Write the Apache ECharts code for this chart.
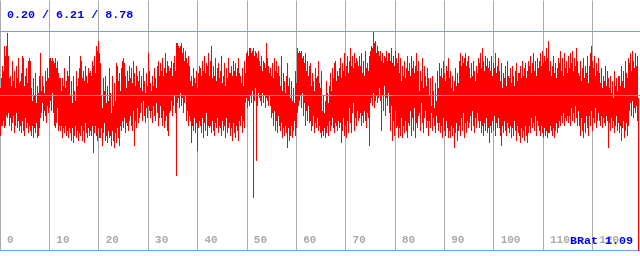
<!DOCTYPE html>
<html>
<head>
<meta charset="utf-8">
<script src="https://cdn.jsdelivr.net/npm/echarts@6/dist/echarts.min.js"></script>
<style>
html,body{margin:0;padding:0;background:#fff;}
#c{width:640px;height:256px;}
</style>
</head>
<body>
<div id="c"></div>
<script>
// Summary figures shown in the header (min / avg / max) and the ratio label
const summaryText = '0.20 / 6.21 / 8.78';
const ratioText = 'BRat 1.09';
const avgValue = 6.21;
const maxValue = 8.78;
const xTickStep = 10;
const xMax = 129.65;

// Per-column high values (one per sample column)
const highs = [
6.5,6.9,7.4,7.2,8.2,7.8,8.2,8.7,7.8,6.9,
7.0,6.6,7.6,6.8,7.2,6.5,7.4,6.9,7.7,6.7,
6.8,7.1,7.8,7.7,6.6,7.0,7.3,6.7,7.6,7.7,
7.6,6.5,6.0,6.9,6.2,7.1,5.9,6.6,6.3,7.0,
7.9,6.4,7.0,6.6,6.3,7.2,6.8,7.3,6.9,7.7,
7.7,7.6,7.7,7.6,7.5,7.7,7.3,7.6,7.1,6.9,
6.9,6.4,6.9,6.6,7.3,6.5,6.8,7.2,7.0,7.8,
6.2,6.8,5.9,7.0,6.4,6.0,7.2,6.6,6.9,7.3,
7.8,7.6,6.9,7.2,6.8,7.4,7.0,6.7,7.3,7.1,
7.2,7.0,7.6,7.4,7.8,7.1,8.2,8.0,8.4,7.9,
7.5,6.2,5.7,6.9,6.4,7.0,5.9,6.6,6.0,7.3,
6.3,5.5,7.0,5.8,6.7,6.0,7.5,7.4,6.8,7.1,
6.4,7.3,7.6,7.7,7.5,7.0,6.5,7.2,6.8,7.4,
6.9,7.3,6.7,7.6,7.1,6.6,7.4,7.0,6.8,7.2,
6.5,7.0,6.4,7.3,6.8,6.3,7.1,6.6,7.9,7.2,
6.7,6.4,7.0,6.6,7.3,6.9,6.5,7.4,7.6,7.0,
7.5,7.2,7.7,7.0,7.3,7.9,7.1,7.6,7.4,7.2,
7.3,7.6,7.0,7.5,7.8,7.2,8.3,8.3,8.2,8.1,
8.2,8.3,7.9,8.1,7.6,8.0,7.7,7.5,7.8,7.4,
6.8,7.0,6.6,7.3,6.9,6.7,7.2,6.5,7.1,7.4,
7.3,7.0,7.6,7.2,7.8,7.1,7.5,7.4,7.9,7.0,
7.6,8.2,6.9,7.4,7.0,7.7,6.8,7.3,7.5,6.9,
7.2,7.8,6.7,7.0,7.5,6.6,7.3,6.9,7.7,7.1,
7.1,7.4,7.0,7.6,7.2,7.5,7.0,7.3,7.7,7.1,
7.0,6.7,7.3,6.6,7.6,7.1,7.9,8.0,7.8,8.1,
8.1,7.9,8.0,8.1,7.8,8.0,7.9,7.7,8.0,7.6,
7.4,7.8,7.2,7.6,7.5,7.3,8.3,7.7,7.4,7.1,
7.3,7.0,7.5,6.9,7.7,7.2,7.6,7.1,7.4,7.0,
6.6,7.8,6.4,7.1,6.8,6.3,7.0,7.5,6.6,6.9,
6.1,6.8,6.0,6.5,5.9,7.2,6.7,8.1,7.9,8.0,
7.9,8.0,7.7,7.8,7.5,7.9,7.2,7.6,7.0,7.4,
7.5,6.6,7.1,6.8,6.4,7.3,6.9,7.0,7.6,6.7,
6.5,5.8,7.2,5.6,6.2,5.5,6.0,6.8,6.3,5.9,
6.6,7.1,6.4,7.3,6.9,7.5,7.6,6.8,7.2,7.0,
7.3,7.7,6.9,7.5,7.2,7.9,7.0,7.4,7.8,7.1,
7.6,8.1,7.4,7.8,7.3,7.9,7.5,7.7,7.6,7.4,
7.8,7.4,7.9,7.1,7.6,7.0,8.0,7.3,7.5,7.2,
7.8,8.0,8.2,8.1,8.75,8.3,8.4,7.9,8.2,8.0,
7.8,8.0,7.6,7.9,7.5,7.8,7.7,8.0,7.6,7.9,
7.9,7.6,8.1,7.5,7.8,7.4,8.0,7.7,7.5,7.9,
7.1,7.7,6.8,7.4,7.0,7.6,6.9,7.3,7.8,7.2,
7.5,7.0,7.8,7.3,7.6,7.1,7.4,7.9,7.2,7.6,
6.4,7.2,6.8,7.7,6.5,7.4,7.0,6.6,7.3,6.9,
6.2,6.9,5.8,7.0,6.4,5.7,6.7,6.0,7.2,6.5,
7.5,7.0,7.3,6.9,7.6,7.1,6.8,7.4,7.2,7.7,
6.9,7.2,6.5,7.0,6.4,6.8,7.3,6.6,7.1,6.7,
7.6,7.9,7.4,7.8,7.5,7.7,7.9,7.4,7.6,7.8,
7.3,6.9,7.5,7.0,7.6,7.2,6.8,7.4,7.1,7.7,
7.5,7.9,7.3,8.1,7.6,7.2,7.8,7.4,7.7,7.3,
7.6,7.2,7.8,7.0,7.5,7.3,7.9,7.1,7.4,7.7,
7.2,6.8,7.5,6.5,7.1,6.9,7.4,6.6,7.6,7.0,
6.9,7.3,6.7,7.4,7.0,6.6,7.2,7.5,6.8,7.1,
7.1,7.4,6.9,7.6,7.0,7.3,7.5,6.9,7.2,7.6,
7.4,7.8,7.1,7.5,7.9,7.2,7.6,7.0,7.7,7.3,
7.6,7.9,7.4,8.0,7.5,7.8,7.6,8.1,7.7,8.4,
7.2,7.6,7.0,7.4,7.8,7.1,7.5,6.9,7.3,7.7,
7.5,8.0,7.2,7.7,7.0,7.9,7.3,7.6,7.1,7.8,
7.3,7.9,7.5,8.0,7.2,7.7,7.4,8.1,7.6,7.1,
7.0,7.6,6.8,7.3,7.7,6.9,7.4,7.1,7.8,6.7,
7.4,7.9,8.2,7.6,7.3,7.8,7.0,7.5,7.2,7.7,
7.1,6.7,7.3,6.5,7.0,6.8,7.4,6.6,7.2,6.9,
6.5,7.0,6.3,6.8,6.1,7.2,6.6,6.9,6.4,7.0,
7.0,6.6,7.4,6.8,7.2,6.5,7.6,7.1,6.9,7.7,
7.5,7.9,7.2,8.0,7.6,7.3,7.9,7.4,7.8,6.1
];

// Per-column low values
const lows = [
4.6,5.0,5.0,5.2,4.9,5.0,5.4,5.3,5.5,5.0,
5.3,4.8,5.1,5.4,4.7,5.0,5.5,4.9,5.2,4.8,
5.0,4.7,5.2,4.8,4.6,5.3,4.9,5.1,4.7,5.0,
4.8,4.6,5.0,4.5,4.9,4.7,5.1,4.5,4.6,4.9,
5.3,5.5,5.9,5.2,5.6,5.4,5.1,5.8,5.5,5.7,
6.0,5.6,6.3,5.5,5.0,4.9,5.1,5.7,4.8,5.0,
4.8,5.0,4.5,4.9,4.7,5.0,4.6,4.8,4.5,4.9,
4.7,4.4,4.9,4.3,4.6,5.0,4.5,4.8,4.4,4.7,
4.6,5.0,4.4,4.8,4.3,5.1,4.7,4.5,4.9,4.6,
4.8,4.6,5.0,3.9,4.7,5.0,4.6,4.4,4.9,4.5,
4.5,4.9,4.2,4.7,5.1,4.4,4.6,4.3,4.8,4.5,
4.6,4.2,4.8,4.4,4.1,4.7,4.3,4.9,4.5,4.2,
5.0,4.8,5.2,4.9,5.3,4.7,5.1,5.0,4.8,5.2,
5.4,5.0,4.8,5.6,4.2,5.2,4.9,5.7,5.1,5.3,
5.5,5.9,5.2,6.0,5.4,5.1,5.7,5.3,5.8,5.6,
5.3,5.6,5.1,5.8,5.4,5.2,5.9,5.5,5.0,5.3,
5.8,5.3,5.0,5.6,4.9,5.2,5.4,4.8,4.6,5.5,
5.6,6.0,5.4,5.8,6.2,5.5,3.0,5.9,6.1,5.7,
6.3,5.8,6.1,5.5,5.9,6.2,5.2,5.6,5.0,5.4,
5.2,4.3,5.0,4.8,5.3,4.7,5.1,4.0,4.9,5.2,
5.0,4.7,5.3,4.5,5.1,4.8,5.5,4.6,5.0,4.9,
5.0,4.7,5.2,4.8,4.6,5.1,4.9,5.3,4.7,5.0,
4.9,4.6,5.2,4.8,5.0,4.5,5.3,4.7,4.9,5.1,
4.6,4.9,4.4,5.1,4.7,4.5,5.0,4.8,4.4,5.2,
5.0,5.4,4.7,5.2,4.9,5.9,6.1,5.7,6.0,5.8,
6.2,5.9,6.4,2.1,6.0,6.5,3.6,5.8,6.3,6.1,
6.0,5.8,6.3,5.9,6.2,5.7,6.1,6.0,5.8,6.2,
5.8,5.3,5.5,5.0,5.6,4.8,5.2,4.7,5.4,5.0,
4.8,5.1,4.5,4.9,4.6,5.0,4.7,4.1,4.9,4.4,
4.6,5.0,4.5,4.8,5.2,4.6,4.9,5.5,5.8,6.0,
6.2,5.7,6.3,5.4,5.9,5.0,5.6,5.2,5.8,5.1,
5.2,4.8,5.0,5.4,4.7,5.1,4.9,5.3,4.8,5.0,
4.7,5.0,4.5,4.8,4.6,4.9,4.5,4.7,5.0,4.6,
5.2,4.8,5.0,5.3,4.9,4.7,5.1,5.0,4.8,5.2,
4.9,5.1,4.3,4.8,5.3,4.6,5.0,4.5,5.2,4.7,
5.7,5.1,4.7,5.5,5.9,4.8,5.3,5.0,5.6,5.2,
5.3,5.5,5.0,5.4,5.1,5.6,5.2,4.9,5.5,5.3,
4.2,5.9,6.1,5.8,6.3,5.7,6.0,6.2,5.9,6.1,
6.5,6.0,4.8,6.2,5.6,6.6,5.4,6.1,5.8,6.3,
5.5,4.8,5.8,4.4,5.2,4.6,5.6,4.9,5.0,4.5,
4.9,4.6,5.3,4.5,5.0,4.7,5.2,4.8,4.5,5.1,
5.0,5.6,4.6,5.3,4.8,5.7,4.5,5.1,4.9,5.4,
5.5,4.8,5.9,5.1,4.7,5.3,5.6,4.9,5.2,4.6,
5.2,4.9,5.5,4.8,5.3,5.0,4.7,5.4,5.1,4.8,
5.1,4.7,5.0,4.5,5.3,4.8,4.6,5.2,4.9,4.5,
4.8,4.5,5.0,4.6,4.9,4.1,4.7,5.1,4.4,4.8,
5.0,4.6,5.3,4.8,5.5,4.5,5.1,4.7,5.2,4.9,
5.1,5.4,4.8,5.6,5.0,4.7,5.3,4.9,5.5,5.2,
4.9,5.2,4.7,5.0,4.6,5.1,4.8,5.3,4.7,4.9,
4.3,5.0,4.7,5.2,4.8,5.4,4.6,5.1,4.9,5.3,
4.9,4.6,4.2,5.0,4.7,5.2,4.8,4.6,5.1,4.9,
4.7,5.0,4.5,4.9,4.6,5.2,4.8,4.4,5.0,4.7,
4.6,4.3,4.9,4.5,4.8,4.4,5.0,4.6,4.3,4.7,
5.0,4.7,5.3,4.9,5.1,4.8,5.4,4.6,5.2,5.0,
4.8,4.6,5.0,4.7,4.5,4.9,4.6,4.8,4.5,4.7,
4.7,5.0,4.8,4.6,4.9,4.5,4.8,5.1,4.7,4.9,
5.2,5.0,5.4,5.1,5.5,5.0,5.3,5.2,5.4,5.1,
5.4,5.0,5.7,5.2,5.5,5.1,5.8,5.3,5.0,5.6,
5.0,4.6,5.3,4.8,4.5,5.1,4.7,5.4,4.9,4.6,
5.4,5.0,5.6,4.8,5.3,5.1,5.7,4.9,5.2,5.5,
5.2,5.0,5.4,4.9,5.3,5.1,5.0,5.4,5.2,4.1,
5.1,4.8,5.3,4.9,5.2,4.7,5.0,5.4,4.8,5.1,
4.7,5.0,4.4,4.9,5.2,4.5,4.8,5.1,4.6,5.0,
5.6,5.9,5.4,6.0,5.3,5.7,5.5,5.8,5.2,0
];

const gridWidth = 641;
const step = xMax / gridWidth;
const rangeData = highs.map((h, i) => [i * step, lows[i], h]);

const blue = '#6aa8ee';
const chart = echarts.init(document.getElementById('c'), null, {renderer: 'canvas'});
chart.setOption({
  animation: false,
  backgroundColor: '#ffffff',
  title: [
    {text: summaryText, left: 7, top: 9, padding: 0,
     textStyle: {color: '#0000ee', fontFamily: 'Liberation Mono', fontWeight: 'bold', fontSize: 11.7, lineHeight: 12}},
    {text: ratioText, left: 570, top: 235, padding: 0,
     textStyle: {color: '#0000ee', fontFamily: 'Liberation Mono', fontWeight: 'bold', fontSize: 11.7, lineHeight: 12}}
  ],
  grid: {left: 0, right: 640 - gridWidth, top: 0.5, bottom: 5.5},
  xAxis: {
    type: 'value', min: 0, max: xMax, interval: xTickStep,
    axisLine: {show: true, lineStyle: {color: blue, width: 1}},
    axisTick: {show: false},
    splitLine: {show: true, lineStyle: {color: '#aaaaaa', width: 1}},
    axisLabel: {inside: true, margin: 5, align: 'left', padding: [0, 0, 0, 7],
      color: '#aaaaaa', fontFamily: 'Liberation Mono', fontWeight: 'bold', fontSize: 11,
      showMaxLabel: false}
  },
  yAxis: {type: 'value', min: 0, max: 10, show: false, splitLine: {show: false}},
  series: [
    {
      type: 'custom',
      data: rangeData,
      z: 2,
      renderItem: function (params, api) {
        const x = api.value(0);
        const lo = api.coord([x, api.value(1)]);
        const hi = api.coord([x, api.value(2)]);
        return {type: 'rect',
          shape: {x: Math.round(lo[0]), y: Math.round(hi[1]), width: 1, height: Math.round(lo[1]) - Math.round(hi[1])},
          style: {fill: '#ff0000', stroke: null, lineWidth: 0}};
      },
      markLine: {
        silent: true, symbol: 'none', z: 5,
        lineStyle: {color: blue, width: 1, type: 'solid'},
        label: {show: false},
        data: [{yAxis: avgValue}, {yAxis: maxValue}]
      }
    }
  ]
});
</script>
</body>
</html>
